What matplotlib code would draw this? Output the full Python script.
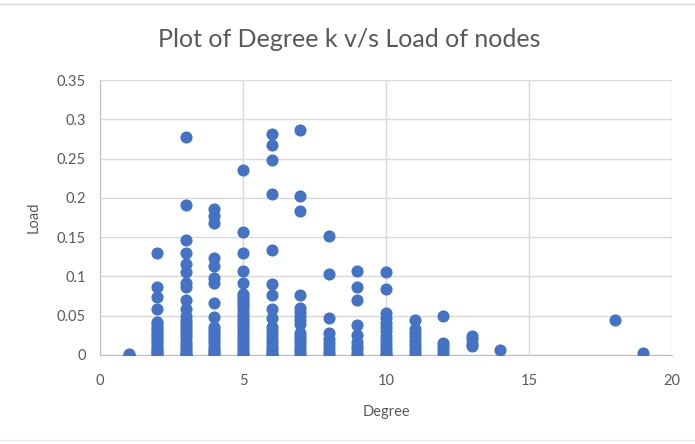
import numpy as np
import matplotlib.pyplot as plt

plt.rcParams['font.family'] = ['Lato', 'DejaVu Sans']

# Load values of nodes grouped by degree
load_k1 = [0.0, 0.0, 0.001]
load_k2 = [0.130, 0.086, 0.074, 0.058, 0.042, 0.039, 0.036, 0.033, 0.030, 0.027, 0.024,
           0.021, 0.018, 0.015, 0.012, 0.009, 0.006, 0.004, 0.002, 0.0]
load_k3 = [0.277, 0.191, 0.146, 0.130, 0.116, 0.105, 0.091, 0.087, 0.070, 0.059, 0.049,
           0.045, 0.041, 0.037, 0.033, 0.029, 0.025, 0.021, 0.017, 0.013, 0.009, 0.006,
           0.003, 0.001, 0.0]
load_k4 = [0.186, 0.177, 0.168, 0.123, 0.113, 0.098, 0.091, 0.066, 0.048, 0.036, 0.032,
           0.028, 0.024, 0.020, 0.016, 0.012, 0.008, 0.005, 0.002, 0.0]
load_k5 = [0.235, 0.156, 0.130, 0.107, 0.091, 0.078, 0.074, 0.070, 0.066, 0.062, 0.058,
           0.054, 0.050, 0.046, 0.042, 0.038, 0.034, 0.030, 0.026, 0.022, 0.018, 0.014,
           0.010, 0.006, 0.003, 0.0]
load_k6 = [0.281, 0.267, 0.248, 0.205, 0.133, 0.090, 0.076, 0.058, 0.047, 0.036, 0.030,
           0.025, 0.020, 0.016, 0.012, 0.008, 0.004, 0.001, 0.0]
load_k7 = [0.287, 0.202, 0.183, 0.076, 0.060, 0.055, 0.050, 0.045, 0.040, 0.028, 0.024,
           0.020, 0.016, 0.012, 0.008, 0.004, 0.0]
load_k8 = [0.152, 0.103, 0.047, 0.028, 0.020, 0.015, 0.010, 0.005, 0.001]
load_k9 = [0.107, 0.086, 0.070, 0.038, 0.025, 0.017, 0.012, 0.007, 0.003, 0.0]
load_k10 = [0.105, 0.084, 0.053, 0.047, 0.041, 0.036, 0.030, 0.024, 0.019, 0.014, 0.009,
            0.005, 0.001, 0.0]
load_k11 = [0.045, 0.033, 0.028, 0.023, 0.018, 0.013, 0.008, 0.004, 0.0]
load_k12 = [0.049, 0.015, 0.011, 0.008, 0.003]
load_k13 = [0.024, 0.020, 0.014, 0.011]
load_k14 = [0.006]
load_k18 = [0.045]
load_k19 = [0.003]

groups = {1: load_k1, 2: load_k2, 3: load_k3, 4: load_k4, 5: load_k5, 6: load_k6,
          7: load_k7, 8: load_k8, 9: load_k9, 10: load_k10, 11: load_k11, 12: load_k12,
          13: load_k13, 14: load_k14, 18: load_k18, 19: load_k19}

degree = []
load = []
for k, vals in groups.items():
    degree += [k] * len(vals)
    load += vals

text_col = '#595959'
grid_col = '#d9d9d9'

fig = plt.figure(figsize=(6.95, 4.44), dpi=100)
ax = fig.add_axes([0.1439, 0.2005, 0.8230, 0.6193])

ax.scatter(degree, load, s=76, color='#4472C4', zorder=3, linewidths=0)

ax.set_xlim(0, 20)
ax.set_ylim(0, 0.35)
ax.set_xticks([0, 5, 10, 15, 20])
ax.set_yticks(np.arange(0, 0.36, 0.05))
ax.set_yticklabels(['0', '0.05', '0.1', '0.15', '0.2', '0.25', '0.3', '0.35'])
ax.grid(True, color=grid_col, linewidth=1)
ax.set_axisbelow(True)
ax.tick_params(length=0, colors=text_col, labelsize=10.5)
ax.tick_params(axis='x', pad=14)
ax.tick_params(axis='y', pad=10)
for side in ['top', 'right']:
    ax.spines[side].set_visible(False)
for side in ['left', 'bottom']:
    ax.spines[side].set_color('#bfbfbf')

ax.set_xlabel('Degree', color=text_col, fontsize=10.5, labelpad=12)
ax.set_ylabel('Load', color=text_col, fontsize=10.5, labelpad=12)
fig.text(0.502, 0.91, 'Plot of Degree k v/s Load of nodes', ha='center', va='center',
         color=text_col, fontsize=18)

# thin frame lines at top and bottom of the picture
fig.add_artist(plt.Line2D([0, 1], [0.99, 0.99], color='#d9d9d9', linewidth=1))
fig.add_artist(plt.Line2D([0, 1], [0.008, 0.008], color='#ececec', linewidth=1))

fig.savefig('out.png', dpi=100)
